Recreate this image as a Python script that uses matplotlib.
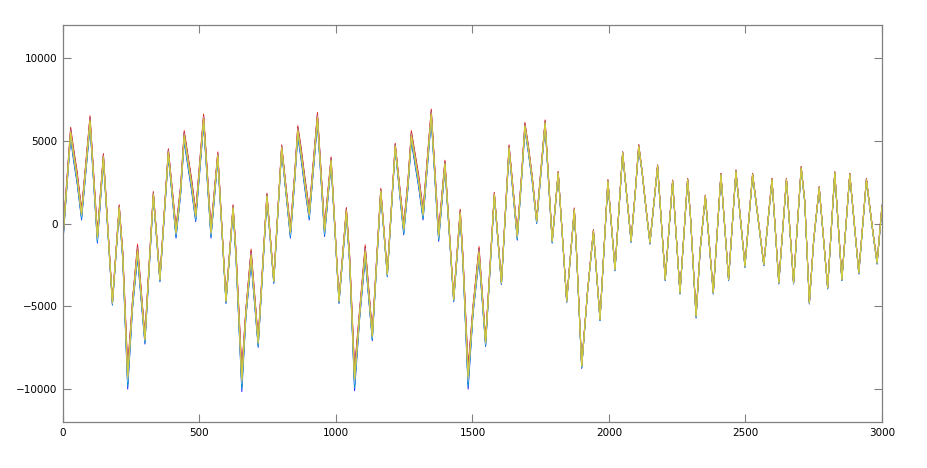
import matplotlib
matplotlib.use("Agg")
import matplotlib.pyplot as plt
import numpy as np

# key points of the common waveform
sample = [0, 15, 28, 38, 52, 68, 99, 126, 148, 181, 206, 219, 237, 255, 273, 300,
          331, 355, 386, 414, 431, 444, 457, 471, 486, 515, 542, 567, 597, 623, 634,
          655, 670, 689, 715, 747, 772, 801, 833, 849, 860, 872, 886, 902, 932, 958,
          982, 1011, 1038, 1050, 1068, 1087, 1107, 1133, 1164, 1188, 1217, 1248, 1264,
          1276, 1288, 1303, 1319, 1349, 1376, 1399, 1431, 1455, 1465, 1484, 1502, 1524,
          1548, 1580, 1606, 1634, 1664, 1680, 1692, 1705, 1719, 1735, 1766, 1792, 1814,
          1845, 1873, 1882, 1900, 1921, 1943, 1967, 1996, 2022, 2050, 2081, 2096, 2109,
          2121, 2136, 2150, 2178, 2206, 2233, 2260, 2288, 2298, 2319, 2334, 2353, 2382,
          2410, 2438, 2465, 2498, 2526, 2536, 2567, 2597, 2622, 2650, 2676, 2704, 2717,
          2734, 2750, 2770, 2801, 2827, 2853, 2882, 2915, 2943, 2951, 2967, 2982, 3000]
amplitude = [-800, 2600, 5500, 4270, 2760, 550, 6200, -850, 4000, -4790, 950, -1970,
             -9300, -4790, -1650, -7000, 1750, -3380, 4300, -550, 2050, 5300, 3870, 2360,
             450, 6300, -550, 4100, -4690, 950, -1970, -9450, -5400, -1950, -7200, 1650,
             -3480, 4570, -550, 2860, 5600, 4270, 2460, 550, 6400, -450, 3800, -4690, 740,
             -2180, -9400, -5400, -1700, -6800, 1950, -3080, 4670, -350, 2460, 5300, 4070,
             2560, 550, 6600, -750, 3600, -4590, 640, -2180, -9300, -5200, -1750, -7200,
             1750, -3580, 4570, -770, 2860, 5880, 4470, 2660, 140, 6080, -1070, 3060, -4690,
             850, -2070, -8620, -4190, -460, -5800, 2560, -2780, 4270, -1070, 1850, 4670,
             3160, 850, -1170, 3470, -3380, 2560, -4190, 2660, 540, -5600, -1570, 1650,
             -4190, 2960, -3380, 3160, -2580, 2960, 1650, -2480, 2660, -3580, 2660, -3580,
             3360, 1350, -4790, -970, 2160, -3880, 3060, -3380, 2960, -2980, 2660, 1550,
             -560, -2380, 1050]
# half width of the bundle of traces at each key point
spread = [300, 250, 350, 400, 400, 350, 350, 350, 250, 150, 200, 300,
          750, 300, 450, 300, 200, 150, 250, 350, 300, 350, 400, 400,
          350, 350, 350, 250, 150, 200, 300, 750, 300, 450, 300, 200,
          150, 200, 350, 300, 350, 400, 400, 350, 350, 350, 250, 150, 250,
          300, 750, 300, 450, 300, 200, 150, 200, 350, 300, 350, 400,
          400, 350, 350, 350, 250, 150, 250, 300, 750, 300, 400, 250,
          150, 120, 200, 250, 200, 250, 250, 200, 150, 200, 120, 100, 80,
          100, 100, 150, 80, 100, 80, 100, 80, 80, 80, 80, 120,
          80, 80, 80, 80, 80, 80, 80, 80, 80, 120, 80, 80,
          80, 80, 80, 80, 80, 80, 80, 80, 80, 80, 80, 80,
          100, 80, 80, 80, 80, 80, 80, 80, 80, 80, 80, 80,
          80, 80, 80]
trace_shift = [0.9, -0.5, -0.95, 0.3, -0.7, 0.6, -0.2, 0.45, -0.35, 0.15, 0.0]
trace_colors = ['#ff0000', '#00a000', '#0000ff', '#ff00ff', '#00c0c0', '#303030',
                '#ff8000', '#ff80c0', '#80c0ff', '#a0c000', '#e0d040']

x = np.array(sample)
base = np.array(amplitude)
width = np.array(spread)

fig = plt.figure(figsize=(9.28, 4.68), dpi=100)
ax = fig.add_axes([63 / 928, 46 / 468, 819 / 928, 397 / 468])

for k, c in zip(trace_shift, trace_colors):
    ax.plot(x, base + k * width, color=c, lw=0.7, alpha=0.85)

ax.set_xlim(0, 3000)
ax.set_ylim(-12000, 12000)
ax.set_xticks([0, 500, 1000, 1500, 2000, 2500, 3000])
ax.set_yticks([-10000, -5000, 0, 5000, 10000])
ax.tick_params(direction='in', length=6, width=0.8, color='#808080',
               labelsize=7.5, top=True, right=True, pad=4)
for s in ax.spines.values():
    s.set_color('#808080')
    s.set_linewidth(0.9)

fig.savefig("out.png", dpi=100)
